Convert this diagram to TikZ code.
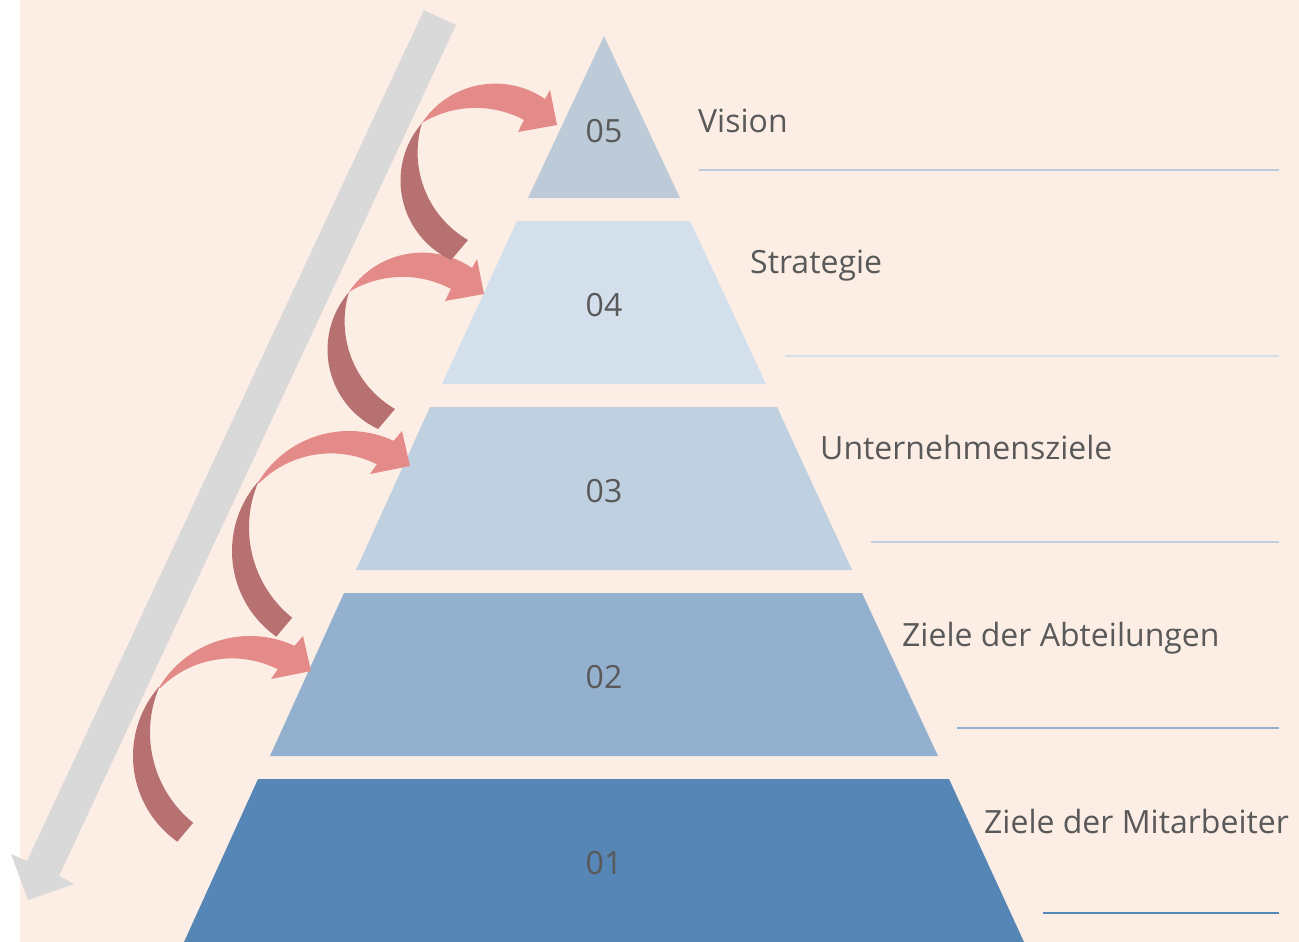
\documentclass[tikz,border=0pt]{standalone}
\usepackage{fontspec}
\setmainfont{Open Sans}
\usepackage{xcolor}
\definecolor{pagepeach}{HTML}{FCEEE5}
\definecolor{arrowgray}{HTML}{D9D9D9}
\definecolor{ribbondark}{HTML}{B77171}
\definecolor{ribbonlight}{HTML}{E48B8A}
\definecolor{textgray}{HTML}{595959}
\definecolor{tierone}{HTML}{5586B5}
\definecolor{tiertwo}{HTML}{93B1CF}
\definecolor{tierthree}{HTML}{BFD0E1}
\definecolor{tierfour}{HTML}{D3DFEB}
\definecolor{tierfive}{HTML}{BDCBD9}

\begin{document}
\begin{tikzpicture}[x=1pt, y=-1pt,
                    every node/.style={textgray, inner sep=0pt,
                                       font=\fontsize{32}{38}\selectfont},
                    tiernum/.style={anchor=base},
                    tierlabel/.style={anchor=base west},
                    tierrule/.style={line width=2pt}]

  \useasboundingbox (0,0) rectangle (1299,942);
  \fill[pagepeach] (20,0) rectangle (1299,942);

  %% 两种弯箭头: 暗的一段是背面, 亮的一段带箭头
  \newcommand{\ribbonlarge}{%
    \fill[ribbondark]
      ([shift={(238,756)}]125.3:105) arc[start angle=125.3, end angle=221.1, radius=105]
      -- ([shift={(266,732.5)}]203:116) arc[start angle=203, end angle=128.9, radius=116]
      -- cycle;
    \fill[ribbonlight]
      ([shift={(250,742)}]211.1:106) arc[start angle=211.1, end angle=294.9, radius=106]
      -- (303,636) -- (311,671) -- (271,679)
      -- ([shift={(232,760)}]296.8:101.6) arc[start angle=296.8, end angle=225, radius=101.6]
      -- cycle;
  }
  \newcommand{\ribbonsmall}{%
    \fill[ribbondark]
      ([shift={(415.1,349.6)}]115:87.6) arc[start angle=115, end angle=221.1, radius=87.6]
      -- ([shift={(446,321.4)}]196.9:101.4) arc[start angle=196.9, end angle=120.2, radius=101.4]
      -- cycle;
    \fill[ribbonlight]
      ([shift={(422.3,340.6)}]213.5:88) arc[start angle=213.5, end angle=304.4, radius=88]
      -- (477,259) -- (484,294) -- (445,301)
      -- ([shift={(402.6,380)}]298:103.1) arc[start angle=298, end angle=238.6, radius=103.1]
      -- cycle;
  }

  %% ---- 灰色的大箭头, 从上往下 ----
  \fill[arrowgray] (424,10) -- (456,25) -- (59,876) -- (74,884) -- (28,900)
                   -- (11,854) -- (27,861) -- cycle;

  %% ---- 金字塔五层 ----
  \fill[tierfive]  (604,36) -- (680,198) -- (528,198) -- cycle;
  \fill[tierfour]  (517,221) -- (690,221) -- (766,384) -- (442,384) -- cycle;
  \fill[tierthree] (430,407) -- (777,407) -- (852,570) -- (356,570) -- cycle;
  \fill[tiertwo]   (344,593) -- (862,593) -- (938,756) -- (270,756) -- cycle;
  \fill[tierone]   (258,779) -- (949,779) -- (1024,942) -- (184,942) -- cycle;

  \node[tiernum] (n05) at (604,142) {05};
  \node[tiernum] (n04) at (604,316) {04};
  \node[tiernum] (n03) at (604,502) {03};
  \node[tiernum] (n02) at (604,688) {02};
  \node[tiernum] (n01) at (604,874) {01};

  %% ---- 右边的文字和横线 ----
  \node[tierlabel] (l05) at (698,132) {Vision};
  \node[tierlabel] (l04) at (750,273) {Strategie};
  \node[tierlabel] (l03) at (820,459) {Unternehmensziele};
  \node[tierlabel] (l02) at (902,646) {Ziele der Abteilungen};
  \node[tierlabel] (l01) at (984,833) {Ziele der Mitarbeiter};

  \draw[tierrule, tierfive]  (699,170) -- (1279,170);
  \draw[tierrule, tierfour]  (785,356) -- (1279,356);
  \draw[tierrule, tierthree] (871,542) -- (1279,542);
  \draw[tierrule, tiertwo]   (957,728) -- (1279,728);
  \draw[tierrule, tierone]   (1043,913) -- (1279,913);

  %% ---- 弯箭头 ----
  \begin{scope}[shift={(0,0)}]
    \ribbonlarge
  \end{scope}
  \begin{scope}[shift={(99,-205)}]
    \ribbonlarge
  \end{scope}
  \begin{scope}[shift={(0,0)}]
    \ribbonsmall
  \end{scope}
  \begin{scope}[shift={(73,-169)}]
    \ribbonsmall
  \end{scope}

\end{tikzpicture}
\end{document}
